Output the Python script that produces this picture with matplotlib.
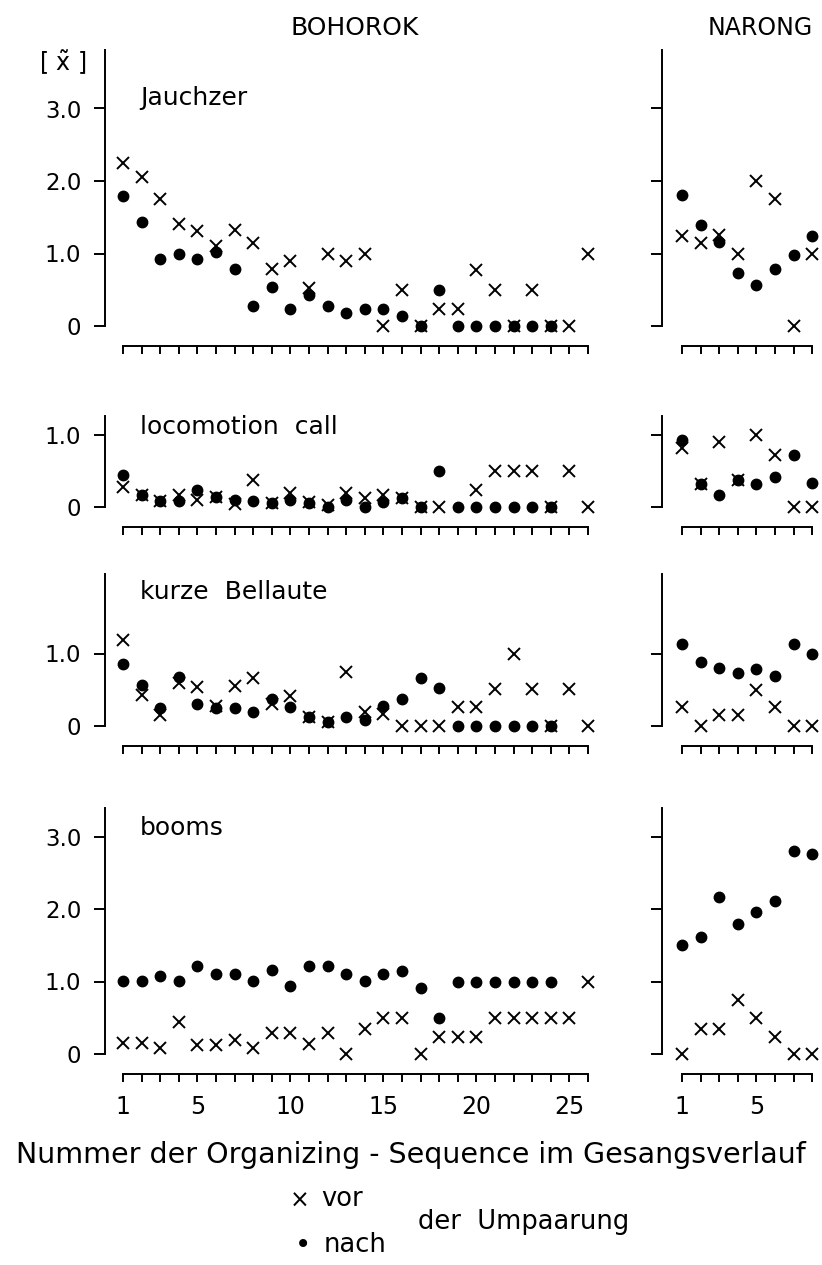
import matplotlib
matplotlib.use("Agg")
import matplotlib.pyplot as plt
import numpy as np

plt.rcParams['font.family'] = ['DejaVu Sans']
plt.rcParams['mathtext.fontset'] = 'dejavusans'

nan = np.nan

# Bohorok: 26 sequences before pairing change (vor), 24 after (nach)
boh_vor = {
    'Jauchzer': [2.25, 2.06, 1.75, 1.41, 1.31, 1.11, 1.33, 1.15, 0.79, 0.90, 0.52, 0.99, 0.89,
                 0.99, 0.0, 0.50, 0.0, 0.24, 0.24, 0.77, 0.50, 0.0, 0.50, 0.0, 0.0, 1.0],
    'locomotion': [0.27, 0.16, 0.08, 0.17, 0.10, 0.14, 0.04, 0.37, 0.06, 0.20, 0.07, 0.03, 0.20,
                   0.13, 0.17, 0.13, 0.0, 0.0, nan, 0.23, 0.50, 0.50, 0.50, 0.0, 0.50, 0.0],
    'kurze': [1.19, 0.43, 0.15, 0.60, 0.54, 0.28, 0.55, 0.66, 0.30, 0.41, 0.12, 0.05, 0.74,
              0.20, 0.16, 0.0, 0.0, 0.0, 0.26, 0.26, 0.51, 1.0, 0.51, 0.0, 0.51, 0.0],
    'booms': [0.15, 0.15, 0.08, 0.44, 0.12, 0.12, 0.19, 0.08, 0.29, 0.29, 0.14, 0.29, 0.0,
              0.34, 0.50, 0.50, 0.0, 0.24, 0.24, 0.24, 0.50, 0.50, 0.50, 0.50, 0.50, 1.0],
}
boh_nach = {
    'Jauchzer': [1.79, 1.43, 0.93, 0.99, 0.93, 1.02, 0.78, 0.28, 0.54, 0.23, 0.43, 0.28, 0.18,
                 0.23, 0.23, 0.14, 0.0, 0.50, 0.0, 0.0, 0.0, 0.0, 0.0, 0.0],
    'locomotion': [0.44, 0.16, 0.08, 0.08, 0.24, 0.14, 0.10, 0.08, 0.06, 0.10, 0.05, 0.0, 0.10,
                   0.0, 0.07, 0.13, 0.0, 0.50, 0.0, 0.0, 0.0, 0.0, 0.0, 0.0],
    'kurze': [0.85, 0.56, 0.25, 0.68, 0.31, 0.25, 0.25, 0.19, 0.37, 0.26, 0.12, 0.05, 0.12,
              0.08, 0.28, 0.37, 0.66, 0.52, 0.0, 0.0, 0.0, 0.0, 0.0, 0.0],
    'booms': [1.01, 1.01, 1.07, 1.01, 1.21, 1.11, 1.11, 1.01, 1.16, 0.94, 1.21, 1.21, 1.11,
              1.01, 1.11, 1.15, 0.91, 0.50, 1.0, 1.0, 1.0, 1.0, 1.0, 1.0],
}

# Narong: 8 sequences
nar_vor = {
    'Jauchzer': [1.24, 1.14, 1.26, 0.99, 2.0, 1.75, 0.0, 0.99],
    'locomotion': [0.82, 0.32, 0.89, 0.37, 0.99, 0.72, 0.0, 0.0],
    'kurze': [0.26, 0.0, 0.15, 0.15, 0.50, 0.26, 0.0, 0.0],
    'booms': [0.0, 0.34, 0.34, 0.75, 0.50, 0.24, 0.0, 0.0],
}
nar_nach = {
    'Jauchzer': [1.80, 1.39, 1.16, 0.73, 0.56, 0.78, 0.98, 1.24],
    'locomotion': [0.92, 0.32, 0.17, 0.37, 0.32, 0.42, 0.72, 0.33],
    'kurze': [1.13, 0.88, 0.80, 0.73, 0.79, 0.69, 1.13, 1.0],
    'booms': [1.50, 1.61, 2.16, 1.80, 1.96, 2.11, 2.80, 2.76],
}

call_types = ['Jauchzer', 'locomotion', 'kurze', 'booms']
panel_titles = ['Jauchzer', 'locomotion  call', 'kurze  Bellaute', 'booms']
y_ticks = [[0, 1, 2, 3], [0, 1], [0, 1], [0, 1, 2, 3]]
y_top = [3.8, 1.25, 2.1, 3.4]
boh_xlabels = {1: '1', 5: '5', 10: '10', 15: '15', 20: '20', 25: '25'}
nar_xlabels = {1: '1', 5: '5'}

# layout in pixels
W, H = 822, 1265
unit_y = 72.5
unit_x = 18.6
zero_px = [326, 507, 726, 1054]
label_px = [98, 427, 592, 828]
gap_px = 20


def rect(left, right, top, bottom):
    return [left / W, 1 - bottom / H, (right - left) / W, (bottom - top) / H]


fig = plt.figure(figsize=(W / 100, H / 100), dpi=100)


def style_axes(ax, n, yt, ytop, ybottom, labels_y, xlabels):
    ax.set_ylim(ybottom, ytop)
    for s in ['top', 'right']:
        ax.spines[s].set_visible(False)
    ax.spines['left'].set_bounds(0, ytop)
    ax.spines['bottom'].set_bounds(1, n)
    ax.spines['left'].set_linewidth(1.4)
    ax.spines['bottom'].set_linewidth(1.4)
    ax.set_yticks(yt)
    if labels_y:
        ax.set_yticklabels(['0' if v == 0 else '%.1f' % v for v in yt])
    else:
        ax.set_yticklabels([])
    ax.set_xticks(np.arange(1, n + 1))
    if xlabels:
        ax.set_xticklabels([xlabels.get(i, '') for i in range(1, n + 1)])
    else:
        ax.set_xticklabels([])
    ax.tick_params(axis='y', direction='out', length=8, width=1.4, pad=9, labelsize=16.5)
    ax.tick_params(axis='x', direction='out', length=6, width=1.4, pad=9, labelsize=17)
    ax.patch.set_visible(False)


for k, ct in enumerate(call_types):
    z = zero_px[k]
    top = z - y_top[k] * unit_y
    bottom = z + gap_px
    ybot = -gap_px / unit_y
    last = (k == 3)

    # Bohorok
    ax = fig.add_axes(rect(105, 105 + 26.97 * unit_x, top, bottom))
    ax.set_xlim(0.03, 27.0)
    xv = np.arange(1, len(boh_vor[ct]) + 1)
    xn = np.arange(1, len(boh_nach[ct]) + 1)
    ax.plot(xn, boh_nach[ct], 'o', color='black', markersize=7.5, clip_on=False)
    ax.plot(xv, boh_vor[ct], 'x', color='black', markersize=9, mew=1.4, clip_on=False)
    style_axes(ax, 26, y_ticks[k], y_top[k], ybot, True, boh_xlabels if last else None)
    fig.text(140 / W, 1 - label_px[k] / H, panel_titles[k], va='center', fontsize=18)

    # Narong
    ax2 = fig.add_axes(rect(662, 662 + 8.525 * unit_x, top, bottom))
    ax2.set_xlim(-0.075, 8.45)
    xs = np.arange(1, 9)
    ax2.plot(xs, nar_nach[ct], 'o', color='black', markersize=7.5, clip_on=False)
    ax2.plot(xs, nar_vor[ct], 'x', color='black', markersize=9, mew=1.4, clip_on=False)
    style_axes(ax2, 8, y_ticks[k], y_top[k], ybot, False, nar_xlabels if last else None)

fig.text(355 / W, 1 - 28 / H, 'BOHOROK', ha='center', va='center', fontsize=18)
fig.text(760 / W, 1 - 28 / H, 'NARONG', ha='center', va='center', fontsize=17)
fig.text(63 / W, 1 - 63 / H, r'[ $\tilde{\mathrm{x}}$ ]', ha='center', va='center', fontsize=17)

fig.text(411 / W, 1 - 1155 / H, 'Nummer der Organizing - Sequence im Gesangsverlauf',
         ha='center', va='center', fontsize=20.5)
fig.text(300 / W, 1 - 1201 / H, '×', ha='center', va='center', fontsize=17)
fig.text(321 / W, 1 - 1199 / H, 'vor', ha='left', va='center', fontsize=18.5)
fig.text(418 / W, 1 - 1222 / H, 'der  Umpaarung', ha='left', va='center', fontsize=18.5)
fig.text(303 / W, 1 - 1245 / H, '•', ha='center', va='center', fontsize=20)
fig.text(324 / W, 1 - 1245 / H, 'nach', ha='left', va='center', fontsize=18.5)

fig.savefig('out.png', dpi=100)
